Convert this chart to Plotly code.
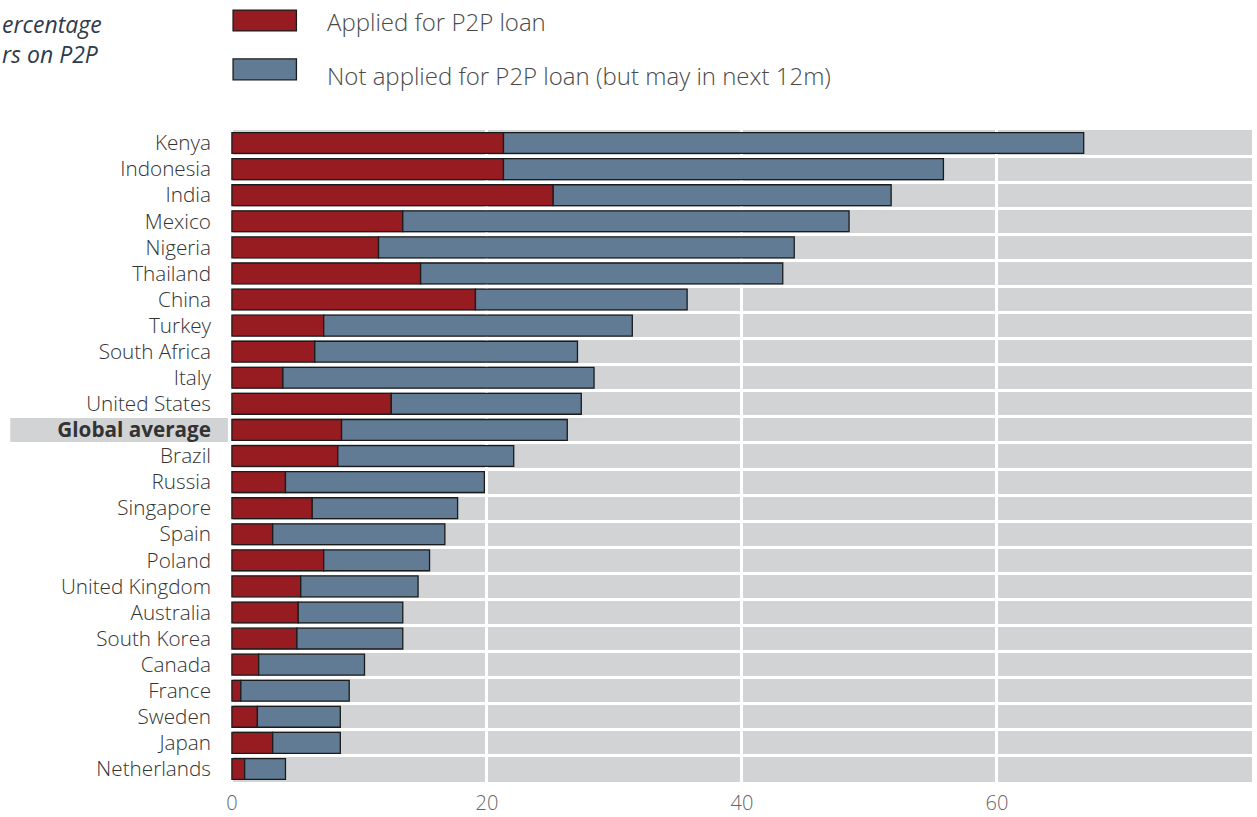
import plotly.graph_objects as go

countries = ["Kenya", "Indonesia", "India", "Mexico", "Nigeria", "Thailand", "China",
             "Turkey", "South Africa", "Italy", "United States", "Global average",
             "Brazil", "Russia", "Singapore", "Spain", "Poland", "United Kingdom",
             "Australia", "South Korea", "Canada", "France", "Sweden", "Japan", "Netherlands"]
applied = [21.3, 21.3, 25.2, 13.4, 11.5, 14.8, 19.1, 7.2, 6.5, 4.0, 12.5, 8.6,
           8.3, 4.2, 6.3, 3.2, 7.2, 5.4, 5.2, 5.1, 2.1, 0.7, 2.0, 3.2, 1.0]
not_applied = [45.5, 34.5, 26.5, 35.0, 32.6, 28.4, 16.6, 24.2, 20.6, 24.4, 14.9, 17.7,
               13.8, 15.6, 11.4, 13.5, 8.3, 9.2, 8.2, 8.3, 8.3, 8.5, 6.5, 5.3, 3.2]
x_ticks = [0, 20, 40, 60]
highlight = "Global average"
series_names = ["Applied for P2P loan", "Not applied for P2P loan (but may in next 12m)"]

RED = "#961C21"
BLUE = "#617B95"
GRAY = "#D2D3D5"
FONT = "Open Sans"

ticktext = [f"<b>{c}</b>" if c == highlight else c for c in countries]

fig = go.Figure()
fig.add_trace(go.Bar(
    y=countries, x=applied, orientation="h", name=series_names[0],
    marker=dict(color=RED, line=dict(color="#1b1b1b", width=1.3)),
    width=0.8, showlegend=False))
fig.add_trace(go.Bar(
    y=countries, x=not_applied, base=applied, orientation="h", name=series_names[1],
    marker=dict(color=BLUE, line=dict(color="#1b1b1b", width=1.3)),
    width=0.8, showlegend=False))

hi = countries.index(highlight)
fig.add_shape(type="rect", xref="paper", yref="y", x0=-0.215, x1=-0.002,
              y0=hi - 0.46, y1=hi + 0.46, fillcolor=GRAY, line=dict(width=0), layer="below")

# legend boxes
fig.add_shape(type="rect", xref="paper", yref="paper", x0=0.003, x1=0.065,
              y0=1.152, y1=1.184, fillcolor=RED, line=dict(color="#1b1b1b", width=1.3))
fig.add_shape(type="rect", xref="paper", yref="paper", x0=0.003, x1=0.065,
              y0=1.077, y1=1.109, fillcolor=BLUE, line=dict(color="#1b1b1b", width=1.3))
fig.add_annotation(xref="paper", yref="paper", x=0.093, y=1.166, xanchor="left", yanchor="middle",
                   text=series_names[0], showarrow=False,
                   font=dict(family=FONT, size=24, color="#4a4a4a", weight=300))
fig.add_annotation(xref="paper", yref="paper", x=0.093, y=1.084, xanchor="left", yanchor="middle",
                   text=series_names[1], showarrow=False,
                   font=dict(family=FONT, size=24, color="#4a4a4a", weight=300))
fig.add_annotation(xref="paper", yref="paper", x=-0.2251, y=1.139, xanchor="left", yanchor="middle",
                   text="<i>ercentage</i><br><i>rs on P2P</i>", align="left", showarrow=False,
                   font=dict(family=FONT, size=23, color="#2e3b4c"))

fig.update_layout(
    width=1257, height=817,
    margin=dict(l=230, r=5, t=130, b=35),
    barmode="overlay",
    plot_bgcolor=GRAY, paper_bgcolor="white",
    font=dict(family=FONT, size=20, color="#333333"),
    xaxis=dict(range=[-0.15, 80], tickvals=x_ticks, showgrid=True, gridcolor="white", gridwidth=3,
               zeroline=False, showline=False, ticks="outside", ticklen=3, automargin=False,
               tickcolor="rgba(0,0,0,0)", tickfont=dict(size=20, color="#666666", weight=300)),
    yaxis=dict(categoryorder="array", categoryarray=countries, autorange="reversed",
               tickvals=countries, ticktext=ticktext, tickson="boundaries",
               showgrid=True, gridcolor="white", gridwidth=3, zeroline=False, automargin=False,
               ticks="", ticklabelstandoff=18,
               tickfont=dict(size=20.7, color="#333333", weight=300)),
)

fig.write_html("out.html")
